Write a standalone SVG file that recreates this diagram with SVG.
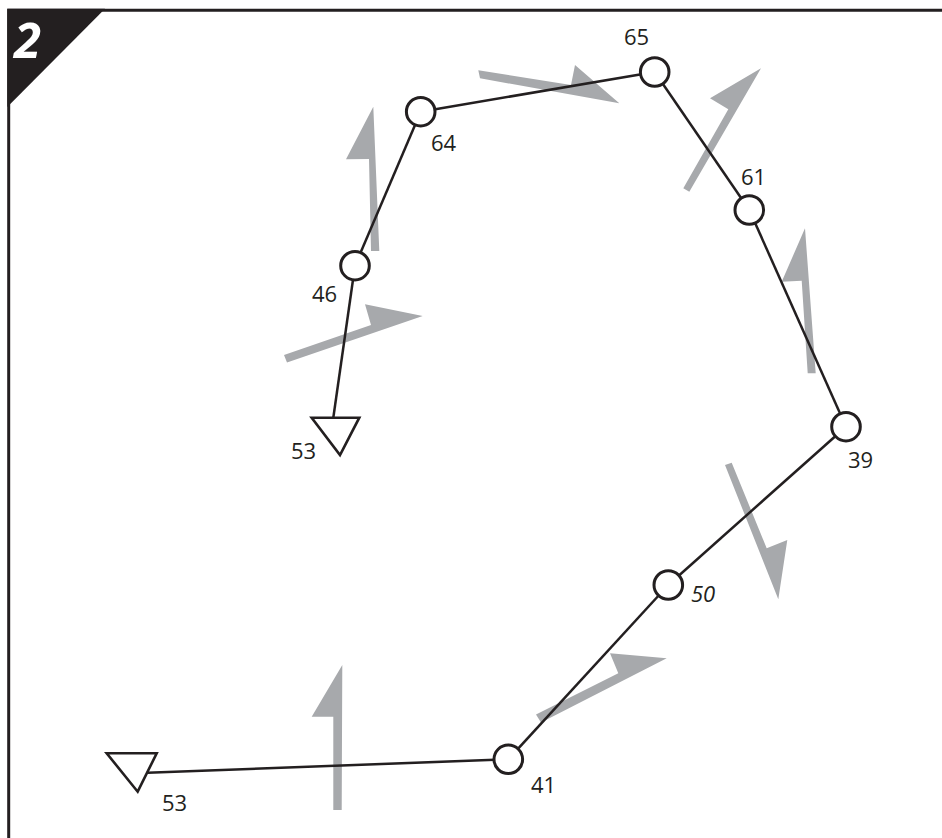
<svg xmlns="http://www.w3.org/2000/svg" width="942" height="838" viewBox="0 0 942 838">
<style>
.arrow{fill:#a7a9ac;stroke:none}
.edge{stroke:#231f20;stroke-width:2.5;fill:none}
.node{fill:#fff;stroke:#231f20;stroke-width:3}
.tri{fill:#fff;stroke:#231f20;stroke-width:2.6;stroke-linejoin:miter}
.lbl{font-family:"Open Sans","Noto Sans","Liberation Sans",sans-serif;font-size:22px;fill:#231f20}
</style>
<rect x="0" y="0" width="942" height="838" fill="#fff"/>
<path d="M8.7,838 V10.2 H942" fill="none" stroke="#231f20" stroke-width="3"/>
<polygon points="7.3,8.7 105,8.7 7.3,107" fill="#231f20"/>
<text x="14" y="58" font-family="'Open Sans','Liberation Sans',sans-serif" font-size="49" font-weight="bold" font-style="italic" fill="#fff">2</text>
<g id="flow-arrows">
<polygon class="arrow" points="373.3,106.7 379.3,251 371,251 369,159 346,159.3"/>
<polygon class="arrow" points="422.7,316 365,304.3 371,325 284,355 287,362.5"/>
<polygon class="arrow" points="619.3,103.3 575,65 571,85 478.3,70.2 480,78.3"/>
<polygon class="arrow" points="761,68.3 710,98.3 728.3,109.3 683.3,188.3 689.3,191.7"/>
<polygon class="arrow" points="805,228.3 815.7,373.3 807.7,373.3 801.7,280.7 781.7,281.7"/>
<polygon class="arrow" points="778.3,599.3 787.3,540 766.7,548.3 731.7,462.7 725,465"/>
<polygon class="arrow" points="666.7,658.3 610,653.3 618.3,673.3 536,714.5 541,722.5"/>
<polygon class="arrow" points="342.3,665 341.7,810 333.3,810 333.3,716.7 311.7,716.7"/>
</g>
<g id="connectors">
<line class="edge" x1="333.3" y1="417.7" x2="355" y2="265.7"/>
<line class="edge" x1="355" y1="265.7" x2="420.7" y2="111.7"/>
<line class="edge" x1="420.7" y1="111.7" x2="654.7" y2="72"/>
<line class="edge" x1="654.7" y1="72" x2="749.3" y2="210"/>
<line class="edge" x1="749.3" y1="210" x2="846" y2="426.7"/>
<line class="edge" x1="846" y1="426.7" x2="668.3" y2="585"/>
<line class="edge" x1="668.3" y1="585" x2="508.3" y2="759.3"/>
<line class="edge" x1="508.3" y1="759.3" x2="147.5" y2="772.7"/>
</g>
<g id="n53top"><polygon class="tri" points="311.7,417.7 359.3,417.7 340,455"/><text class="lbl" x="291" y="459">53</text></g>
<g id="n46"><circle class="node" cx="355" cy="265.7" r="14.3"/><text class="lbl" x="312" y="302">46</text></g>
<g id="n64"><circle class="node" cx="420.7" cy="111.7" r="14.3"/><text class="lbl" x="431" y="151">64</text></g>
<g id="n65"><circle class="node" cx="654.7" cy="72" r="14.3"/><text class="lbl" x="624" y="45">65</text></g>
<g id="n61"><circle class="node" cx="749.3" cy="210" r="14.3"/><text class="lbl" x="741" y="185">61</text></g>
<g id="n39"><circle class="node" cx="846" cy="426.7" r="14.3"/><text class="lbl" x="848" y="468">39</text></g>
<g id="n50"><circle class="node" cx="668.3" cy="585" r="14.3"/><text class="lbl" x="691" y="601.7" font-style="italic">50</text></g>
<g id="n41"><circle class="node" cx="508.3" cy="759.3" r="14.3"/><text class="lbl" x="531" y="793">41</text></g>
<g id="n53bottom"><polygon class="tri" points="106.7,753.3 156.7,753.3 137.7,791.7"/><text class="lbl" x="162" y="811">53</text></g>
</svg>
